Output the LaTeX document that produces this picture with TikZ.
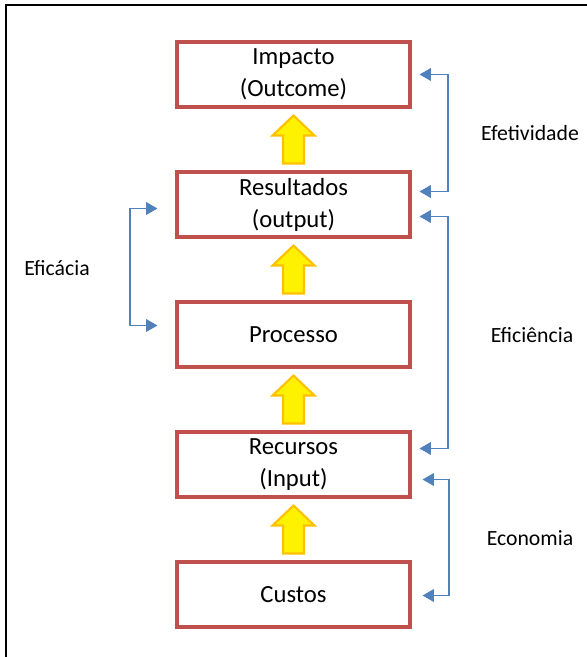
\documentclass[tikz,border=0pt]{standalone}
\usepackage{fontspec}
\setmainfont{Carlito}
\usetikzlibrary{arrows.meta,calc}
\definecolor{boxred}{HTML}{C0504D}
\definecolor{connblue}{HTML}{4F81BD}
\definecolor{arrgold}{HTML}{FFC000}
\tikzset{
  box/.style={draw=boxred, line width=2.3pt, fill=white, minimum width=174.75pt, minimum height=48.75pt, align=center, font=\fontsize{18.5}{24}\selectfont, inner sep=0pt},
  lbl/.style={font=\fontsize{16.3}{19}\selectfont, inner sep=0pt},
  conn/.style={draw=connblue, line width=1pt, {Triangle[length=8.5pt,width=9.5pt]}-{Triangle[length=8.5pt,width=9.5pt]}},
  yarr/.pic={\draw[draw=arrgold, fill=yellow, line width=1.6pt, line join=miter]
     (0,0) -- (21,20) -- (10.5,20) -- (10.5,48) -- (-10.5,48) -- (-10.5,20) -- (-21,20) -- cycle;}
}
\begin{document}
\begin{tikzpicture}[x=0.75pt,y=-0.75pt]
\useasboundingbox (0,0) rectangle (586,657);
\draw[line width=1.8pt] (6,720) -- (6,5) -- (650,5);

\node[box] (imp) at (293.5,74.5) {Impacto\\(Outcome)};
\node[box] (res) at (293.5,204.5) {Resultados\\(output)};
\node[box] (pro) at (293.5,334.5) {Processo};
\node[box] (rec) at (293.5,464.5) {Recursos\\(Input)};
\node[box] (cus) at (293.5,594.5) {Custos};

\path ($(imp.south)+(0,7)$) pic {yarr};
\path ($(res.south)+(0,7)$) pic {yarr};
\path ($(pro.south)+(0,7)$) pic {yarr};
\path ($(rec.south)+(0,7)$) pic {yarr};

% right side connectors
\coordinate (e1) at ($(imp.east)+(8,0)$);
\coordinate (e2) at ($(res.east)+(8,-13)$);
\coordinate (f1) at ($(res.east)+(8,12)$);
\coordinate (f2) at ($(rec.east)+(8,-16)$);
\coordinate (g1) at ($(rec.east)+(11,15)$);
\coordinate (g2) at ($(cus.east)+(11,1)$);
\draw[conn] (e1) -- (448,74.5) |- (e2);
\draw[conn] (f1) -- (448,216.5) |- (f2);
\draw[conn] (g1) -- (449,479.5) |- (g2);

% left connector
\coordinate (c1) at ($(res.west)+(-18,4)$);
\coordinate (c2) at ($(pro.west)+(-18,-9)$);
\draw[conn] (c1) -- (130,208.5) |- (c2);

\node[lbl] (lef) at (530,133) {Efetividade};
\node[lbl] (lei) at (532,335) {Eficiência};
\node[lbl] (lec) at (530,538) {Economia};
\node[lbl] (lfa) at (57,268) {Eficácia};
\end{tikzpicture}
\end{document}
